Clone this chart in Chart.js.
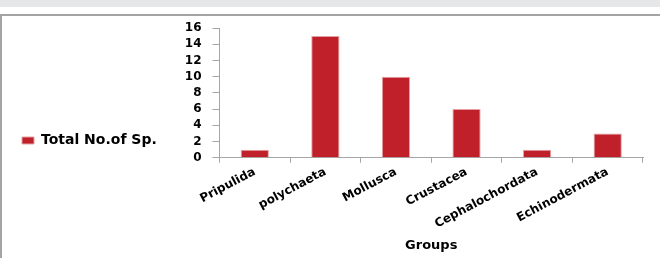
<!DOCTYPE html>
<html>
<head>
<meta charset="utf-8">
<script src="https://cdn.jsdelivr.net/npm/chart.js@4"></script>
<style>
  html, body { margin: 0; padding: 0; background: #fff; }
  #topBand { position: absolute; left: 0; top: 0; width: 660px; height: 7px; background: #e6e7e8; }
  #frame { position: absolute; left: 0; top: 14px; width: 658px; height: 242px;
           border-top: 2px solid #a4a4a4; border-left: 2px solid #a4a4a4; }
</style>
</head>
<body>
<div id="topBand"></div>
<div id="frame"><canvas id="groupsChart"></canvas></div>
<script>
// Species count per group
const groups = ['Pripulida', 'polychaeta', 'Mollusca', 'Crustacea', 'Cephalochordata', 'Echinodermata'];
const speciesCount = [1, 15, 10, 6, 1, 3];
const seriesName = 'Total No.of Sp.';
const yMin = 0;
const yMax = 16;
const yStep = 2;

const axisGrey = '#a6a6a6';

new Chart(document.getElementById('groupsChart'), {
    type: 'bar',
    data: {
        labels: groups,
        datasets: [{
            label: seriesName,
            data: speciesCount,
            backgroundColor: '#c0202a',
            borderColor: '#e3a1a4',
            borderWidth: 1,
            borderSkipped: 'bottom',
            categoryPercentage: 1.0,
            barPercentage: 0.4
        }]
    },
    options: {
        responsive: true,
        maintainAspectRatio: false,
        animation: false,
        layout: {
            padding: { left: 10, top: 12, right: 17, bottom: 5 }
        },
        scales: {
            x: {
                grid: {
                    display: true,
                    drawOnChartArea: false,
                    drawTicks: true,
                    tickLength: 5,
                    color: axisGrey,
                    offset: true
                },
                border: { color: axisGrey, width: 1 },
                ticks: {
                    color: '#000',
                    font: { family: 'DejaVu Sans', weight: 'bold', size: 12 },
                    minRotation: 28,
                    maxRotation: 28,
                    padding: 2
                },
                title: {
                    display: true,
                    text: 'Groups',
                    color: '#000',
                    font: { family: 'DejaVu Sans', weight: 'bold', size: 13 },
                    padding: { top: 4, bottom: 0 }
                }
            },
            y: {
                min: yMin,
                max: yMax,
                afterFit: function(scale) {
                    // push the axis right so the plot starts where the original does
                    scale.width += 7;
                    // tick padding is only wanted sideways, not above/below the axis
                    scale.paddingTop = 8;
                    scale.paddingBottom = 8;
                },
                grid: {
                    display: true,
                    drawOnChartArea: false,
                    drawTicks: true,
                    tickLength: 7,
                    color: axisGrey
                },
                border: { color: axisGrey, width: 1 },
                ticks: {
                    stepSize: yStep,
                    autoSkip: false,
                    color: '#000',
                    font: { family: 'DejaVu Sans', weight: 'bold', size: 12 },
                    padding: 11
                }
            }
        },
        plugins: {
            legend: {
                position: 'left',
                labels: {
                    boxWidth: 12,
                    boxHeight: 7,
                    padding: 10,
                    color: '#000',
                    font: { family: 'DejaVu Sans', weight: 'bold', size: 14 }
                }
            },
            tooltip: { enabled: false }
        }
    }
});
</script>
</body>
</html>
